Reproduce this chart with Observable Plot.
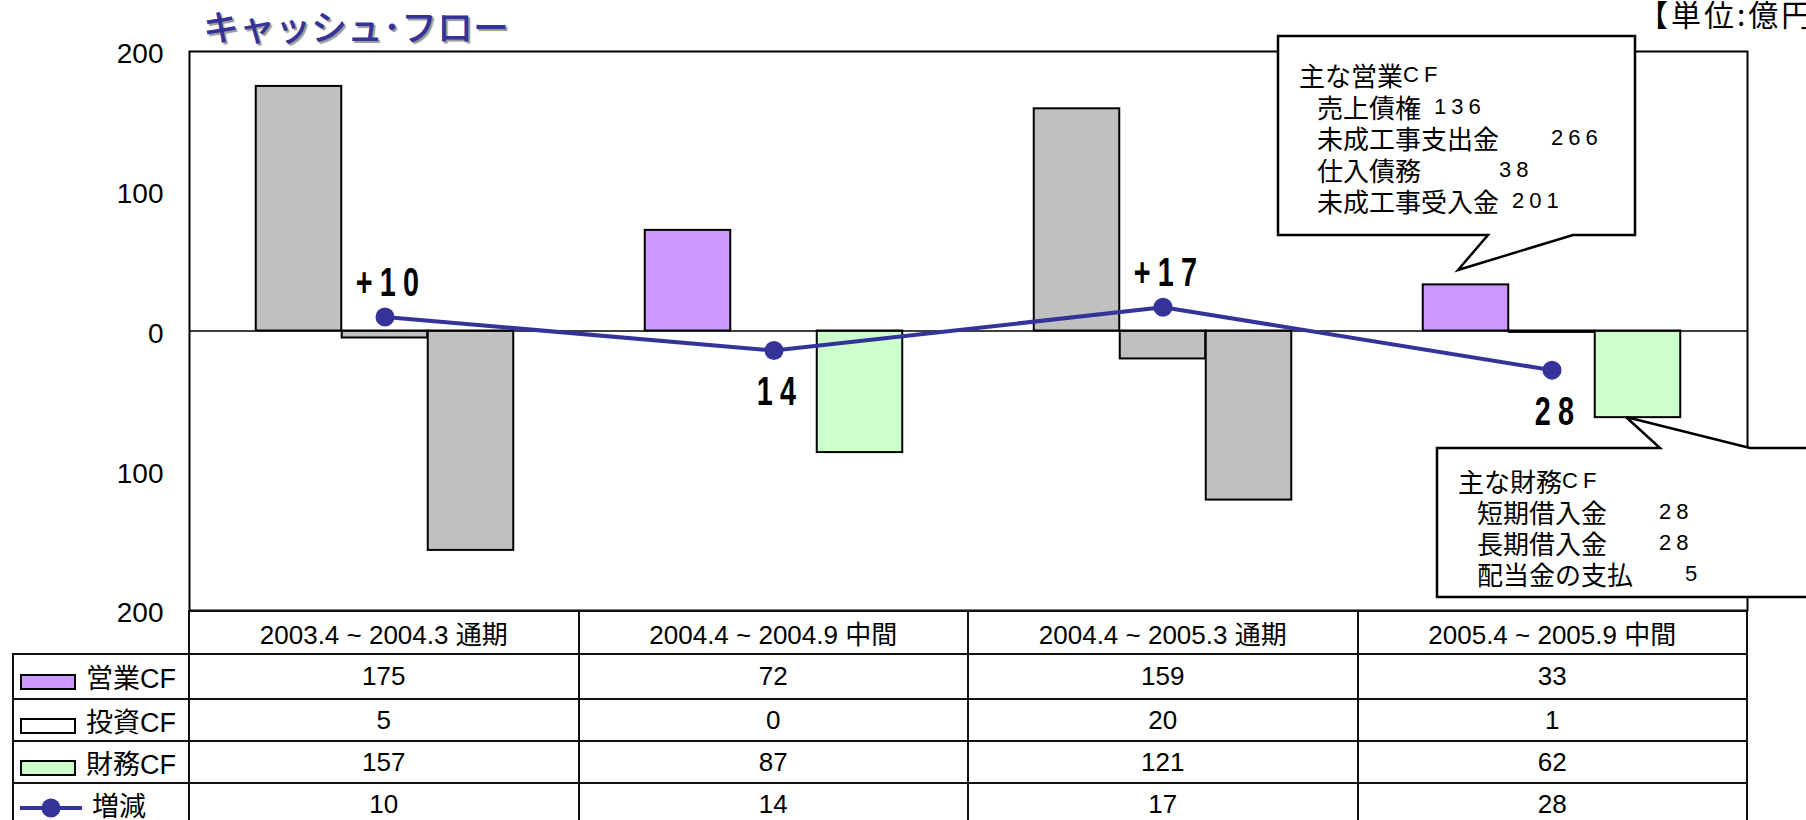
<!DOCTYPE html>
<html>
<head>
<meta charset="utf-8">
<script src="https://cdn.jsdelivr.net/npm/d3@7"></script>
<script src="https://cdn.jsdelivr.net/npm/@observablehq/plot@0.6"></script>
<style>
  html, body { margin: 0; padding: 0; background: #fff; }
  #wrap { position: relative; width: 1806px; height: 820px; overflow: hidden; background: #fff; }
  #chart { position: absolute; left: 0; top: 0; }
  #title { position: absolute; left: 203px; top: 3px; font-family: "Noto Sans CJK JP", sans-serif; font-weight: 500; font-size: 36px; line-height: 44px; color: #333399; text-shadow: 2px 2px 1px #9a9a9a; white-space: nowrap; }
  #unit { position: absolute; left: 1638px; top: -7px; font-family: "Noto Sans CJK JP", sans-serif; font-size: 30px; line-height: 40px; color: #000; white-space: nowrap; letter-spacing: 3px; }
  #tbl { position: absolute; left: 12px; top: 610px; border-collapse: collapse; table-layout: fixed; font-family: "Liberation Sans", Arial, "Noto Sans CJK JP", sans-serif; font-size: 26px; color: #000; }
  #tbl td { border: 2px solid #111; text-align: center; padding: 0; white-space: nowrap; overflow: hidden; }
  #tbl td.blank { border-top: none; border-left: none; }
  #tbl td.leg { text-align: left; font-size: 27px; }
  .sw { display: inline-block; width: 52px; height: 12px; border: 2px solid #000; margin: 0 10px 0 6px; vertical-align: -2px; }
  #callouts { position: absolute; left: 0; top: 0; pointer-events: none; }
  g[aria-label="text"] text { letter-spacing: 10px; }
</style>
</head>
<body>
<div id="wrap">
  <div id="chart"></div>
  <div id="title"></div>
  <div id="unit"></div>
</div>
<script>
// ---- data ----
const categories = ["2003.4 ~ 2004.3 通期", "2004.4 ~ 2004.9 中間", "2004.4 ~ 2005.3 通期", "2005.4 ~ 2005.9 中間"];
const seriesNames = ["営業CF", "投資CF", "財務CF"];
const operatingCF = [175, 72, 159, 33];
const investingCF = [-5, 0, -20, -1];
const financingCF = [-157, -87, -121, -62];
const netChange = [10, -14, 17, -28];
const changeName = "増減";
const yTicks = [-200, -100, 0, 100, 200];
const titleText = "キャッシュ･フロー";
const unitText = "【単位:億円】";
const opNotesTitle = ["主な営業", "CF"];
const opNotes = [["売上債権\u2002", "136"], ["未成工事支出金　　", "266"], ["仕入債務　　　", "38"], ["未成工事受入金\u2002", "201"]];
const finNotesTitle = ["主な財務", "CF"];
const finNotes = [["短期借入金　　", "28"], ["長期借入金　　", "28"], ["配当金の支払　　", "5"]];

// ---- style ----
const seriesColors = ["#CC99FF", "#FFFFFF", "#CCFFCC"];
const fullYearColor = "#C0C0C0";
const lineColor = "#333399";

const seriesValues = [operatingCF, investingCF, financingCF];
const barRows = [];
seriesNames.forEach((s, i) => categories.forEach((c, j) => {
  barRows.push({cat: c, series: s, value: seriesValues[i][j],
    fill: c.includes("通期") ? fullYearColor : seriesColors[i]});
}));
const changeRows = categories.map((c, j) => ({
  cat: c, value: netChange[j],
  label: netChange[j] > 0 ? "+" + netChange[j] : String(Math.abs(netChange[j]))
}));

const W = 1806, H = 640, mL = 189, mR = 59, mT = 51, mB = 30;
const bandW = (W - mL - mR) / categories.length;
const barW = 86;
const inset = (bandW - barW) / 2;
const labelFont = "'Liberation Sans', Arial, sans-serif";

const plot = Plot.plot({
  width: W, height: H,
  marginTop: mT, marginBottom: mB, marginLeft: mL, marginRight: mR,
  style: {fontFamily: "'Liberation Sans', Arial, 'Noto Sans CJK JP', sans-serif", fontSize: "28px", background: "transparent", color: "#000", overflow: "visible"},
  x: {domain: categories, padding: 0, axis: null},
  y: {domain: [-200, 200], label: null},
  marks: [
    Plot.axisY(yTicks, {tickSize: 0, tickPadding: 26, dy: 3, tickFormat: d => String(Math.abs(d)), fontSize: 28, label: null}),
    ...seriesNames.map((s, i) => Plot.barY(barRows.filter(r => r.series === s), {
      x: "cat", y1: 0, y2: "value", fill: "fill", stroke: "#000", strokeWidth: 2,
      dx: (i - 1) * barW, insetLeft: inset, insetRight: inset
    })),
    Plot.ruleY([0], {stroke: "#000", strokeWidth: 1.5}),
    Plot.frame({stroke: "#000", strokeWidth: 2}),
    Plot.line(changeRows, {x: "cat", y: "value", stroke: lineColor, strokeWidth: 4}),
    Plot.dot(changeRows, {x: "cat", y: "value", r: 9.5, fill: lineColor, stroke: "none"}),
    Plot.text(changeRows.filter(d => d.value > 0), {x: "cat", y: "value", text: "label", dy: -34, dx: 6,
      fontSize: 40, fontWeight: "bold", fontFamily: labelFont, fill: "#000"}),
    Plot.text(changeRows.filter(d => d.value < 0), {x: "cat", y: "value", text: "label", dy: 42, dx: 6,
      fontSize: 40, fontWeight: "bold", fontFamily: labelFont, fill: "#000"})
  ]
});
// condense the change labels horizontally (narrow bold digits in the reference)
d3.select(plot).selectAll('g[aria-label="text"] text').each(function () {
  const t = this.getAttribute("transform");
  if (t) {
    this.setAttribute("transform", t + " scale(0.72,1)");
  } else {
    const x = +this.getAttribute("x") || 0, y = +this.getAttribute("y") || 0;
    this.removeAttribute("x"); this.removeAttribute("y");
    this.setAttribute("transform", `translate(${x},${y}) scale(0.72,1)`);
  }
});
document.getElementById("chart").appendChild(plot);
document.getElementById("title").textContent = titleText;
document.getElementById("unit").textContent = unitText;

// ---- data table with legend ----
const wrap = document.getElementById("wrap");
const table = document.createElement("table");
table.id = "tbl";
const colgroup = document.createElement("colgroup");
[176, ...categories.map(() => bandW)].forEach(w => {
  const col = document.createElement("col"); col.style.width = w + "px"; colgroup.appendChild(col);
});
table.appendChild(colgroup);
const hdr = document.createElement("tr"); hdr.style.height = "43px";
const blank = document.createElement("td"); blank.className = "blank"; hdr.appendChild(blank);
categories.forEach(c => { const td = document.createElement("td"); td.textContent = c; hdr.appendChild(td); });
table.appendChild(hdr);
const rowHeights = [45, 42, 42, 43];
seriesNames.forEach((s, i) => {
  const tr = document.createElement("tr"); tr.style.height = rowHeights[i] + "px";
  const lg = document.createElement("td"); lg.className = "leg";
  const sw = document.createElement("span"); sw.className = "sw"; sw.style.background = seriesColors[i];
  lg.appendChild(sw); lg.appendChild(document.createTextNode(s)); tr.appendChild(lg);
  seriesValues[i].forEach(v => { const td = document.createElement("td"); td.textContent = Math.abs(v); tr.appendChild(td); });
  table.appendChild(tr);
});
{
  const tr = document.createElement("tr"); tr.style.height = rowHeights[3] + "px";
  const lg = document.createElement("td"); lg.className = "leg";
  lg.innerHTML = '<svg width="66" height="22" style="vertical-align:-3px;margin:0 8px 0 4px"><line x1="2" x2="64" y1="11" y2="11" stroke="' + lineColor + '" stroke-width="4"/><circle cx="33" cy="11" r="9.5" fill="' + lineColor + '"/></svg>';
  lg.appendChild(document.createTextNode(changeName)); tr.appendChild(lg);
  netChange.forEach(v => { const td = document.createElement("td"); td.textContent = Math.abs(v); tr.appendChild(td); });
  table.appendChild(tr);
}
wrap.appendChild(table);

// ---- callout annotations ----
const svg = d3.select(wrap).append("svg").attr("id", "callouts").attr("width", W).attr("height", 820);
function callout(path, x0, x1, y0, lh, head, lines) {
  svg.append("path").attr("d", path).attr("fill", "#fff").attr("stroke", "#000").attr("stroke-width", 2.5).attr("stroke-linejoin", "miter");
  const g = svg.append("g").attr("font-family", "'Noto Sans CJK JP', sans-serif").attr("font-size", 26).attr("fill", "#000");
  const all = [head, ...lines];
  all.forEach((ln, k) => {
    const t = g.append("text").attr("x", k === 0 ? x0 : x1).attr("y", y0 + k * lh)
      .attr("dominant-baseline", "central").style("white-space", "pre");
    t.append("tspan").text(ln[0]);
    t.append("tspan").attr("font-family", "'Liberation Sans', sans-serif")
      .attr("font-size", 22).attr("letter-spacing", 5).text(ln[1]);
  });
}
callout("M1278,36 H1635 V235 H1573 L1458,270 L1488,235 H1278 Z", 1299, 1317, 74, 31.5, opNotesTitle, opNotes);
callout("M1437,448 H1660 L1626,417 L1750,448 H1830 V597 H1437 Z", 1458, 1477, 480, 31, finNotesTitle, finNotes);
</script>
</body>
</html>
